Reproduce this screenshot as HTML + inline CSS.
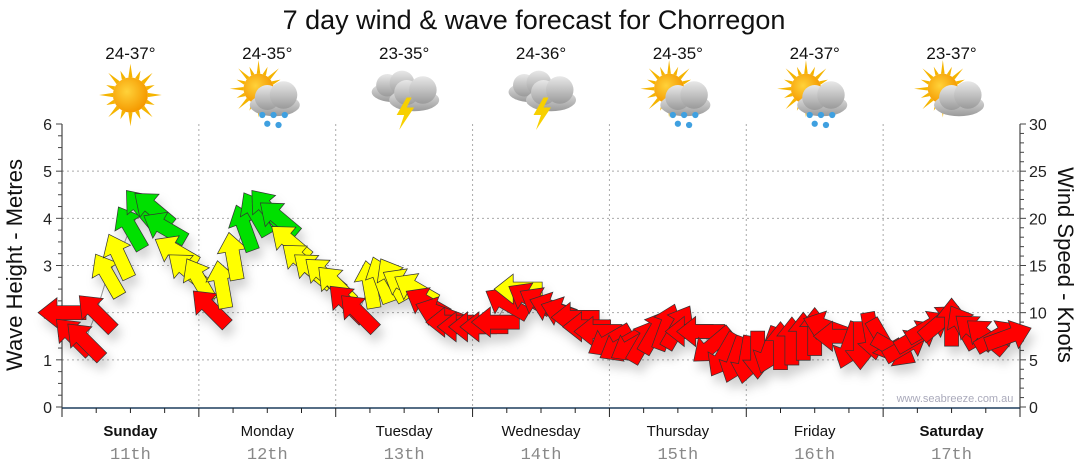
<!DOCTYPE html>
<html><head><meta charset="utf-8"><style>
body{margin:0;background:#fff;}
svg{display:block;font-family:"Liberation Sans",sans-serif;}
</style></head><body>
<svg id="c" width="1080" height="475" viewBox="0 0 1080 475">
<defs>
<filter id="sh" x="-50%" y="-50%" width="200%" height="200%"><feDropShadow dx="4" dy="8" stdDeviation="5" flood-color="#000" flood-opacity="0.18"/></filter>
<radialGradient id="sunG" cx="0.4" cy="0.4" r="0.6"><stop offset="0" stop-color="#ffd23a"/><stop offset="1" stop-color="#f59a00"/></radialGradient>
<linearGradient id="cloudG" x1="0" y1="0" x2="0" y2="1"><stop offset="0" stop-color="#e8e8e8"/><stop offset="1" stop-color="#9a9a9a"/></linearGradient>
</defs>
<text x="534" y="29" text-anchor="middle" font-size="27" fill="#111">7 day wind &amp; wave forecast for Chorregon</text>
<g id="grid"></g>
<g id="axes"></g>
<g id="header"></g>
<polyline id="wline" fill="none" stroke="#999" stroke-width="1"/>
<g id="arrows" filter="url(#sh)"></g>
<text x="955" y="402" text-anchor="middle" font-size="11" fill="#aab">www.seabreeze.com.au</text>
<text transform="translate(22,265) rotate(-90)" text-anchor="middle" font-size="22" fill="#111">Wave Height - Metres</text>
<text transform="translate(1058,265) rotate(90)" text-anchor="middle" font-size="22" fill="#111">Wind Speed - Knots</text>
</svg>
<script>
const days=["Sunday","Monday","Tuesday","Wednesday","Thursday","Friday","Saturday"];
const dates=["11th","12th","13th","14th","15th","16th","17th"];
const temps=["24-37°","24-35°","23-35°","24-36°","24-35°","24-37°","23-37°"];
const icons=["sun","sunrain","storm","storm","sunrain","sunrain","suncloud"];
const waveTicks=[0,1,2,3,4,5,6];
const windTicks=[0,5,10,15,20,25,30];
// wind every 2 hours from Sunday 00:00
const windSpeed=[10,7.5,7,10,14,16,19,21,21,19,16.5,14.5,
13.5,10.5,13,16,19,20.5,21,20,17.5,15.5,14.5,14,
13,11,10,13,13.5,13.5,13,12.5,11,10,9,8.5,
8.5,8.5,9,11,12.5,11.5,11,10.5,10,9.5,8.5,8,
7,6.5,6.5,7,8,8.5,8.5,8,8,6.5,5.5,5,
5,5.5,6,6.5,7,7.5,8,8.5,7.5,6.5,6.5,7.5,
7,6,6.5,7.5,8.5,9,9,8.5,8,7.5,7.5,7.5];
const windDir=[270,315,315,315,330,335,330,320,310,300,300,310,
330,315,350,350,340,330,320,310,310,310,310,310,
315,315,315,350,340,330,300,300,300,290,270,270,
270,270,270,300,270,300,300,290,290,270,270,270,
240,240,240,30,30,20,30,270,270,230,210,200,
190,180,200,0,0,0,0,290,270,200,180,170,
150,120,60,60,60,50,0,330,310,310,60,70];

const NS="http://www.w3.org/2000/svg";
const X0=62,X1=1020,Y0=407,Y6=124;
const dayW=(X1-X0)/7;
const xHour=h=>X0+h*dayW/24;
const yWave=m=>Y0-(Y0-Y6)*m/6;
const yWind=k=>Y0-(Y0-Y6)*k/30;
function el(tag,attrs,parent,text){const e=document.createElementNS(NS,tag);for(const k in attrs)e.setAttribute(k,attrs[k]);if(text!==undefined)e.textContent=text;parent.appendChild(e);return e;}
const grid=document.getElementById('grid'),axes=document.getElementById('axes'),header=document.getElementById('header');
for(let m=1;m<=5;m++){const g=el('line',{x1:X0,x2:X1,y1:yWave(m),y2:yWave(m),stroke:'#aaa','stroke-dasharray':'2,3','stroke-width':1},grid);

}
for(let d=1;d<7;d++){const x=X0+d*dayW;const g=el('line',{x1:x,x2:x,y1:Y6,y2:Y0,stroke:'#aaa','stroke-dasharray':'2,3','stroke-width':1},grid);

}
el('line',{x1:X0,x2:X0,y1:Y6,y2:Y0+8,stroke:'#222'},axes);
el('line',{x1:X1,x2:X1,y1:Y6,y2:Y0+8,stroke:'#222'},axes);
el('line',{x1:X0,x2:X1,y1:Y0+1,y2:Y0+1,stroke:'#1f3f5f','stroke-width':1.5},axes);
for(let i=0;i<=24;i++){const y=yWave(i/4);el('line',{x1:X0-(i%4==0?6:4),x2:X0,y1:y,y2:y,stroke:'#444'},axes);}
for(let k=0;k<=30;k++){const y=yWind(k);el('line',{x1:X1,x2:X1+(k%5==0?6:4),y1:y,y2:y,stroke:'#444'},axes);}
waveTicks.forEach(m=>{const t=el('text',{x:X0-10,y:yWave(m)+6,'text-anchor':'end','font-size':16,fill:'#222'},axes,String(m));

});
windTicks.forEach(k=>{const t=el('text',{x:X1+9,y:yWind(k)+6,'font-size':16,fill:'#222'},axes,String(k));

});
for(let h=0;h<=168;h+=6){const x=xHour(h);el('line',{x1:x,x2:x,y1:Y0+1,y2:Y0+(h%24==0?10:6),stroke:'#222'},axes);}
days.forEach((d,i)=>{const cx=X0+(i+0.5)*dayW;
const t=el('text',{x:cx,y:436,'text-anchor':'middle','font-size':15,fill:'#111','font-weight':(i==0||i==6)?'bold':'normal'},axes,d);


const t2=el('text',{x:cx,y:459,'text-anchor':'middle','font-size':17,fill:'#888','font-family':'Liberation Mono, monospace'},axes,dates[i]);


const t3=el('text',{x:cx,y:59,'text-anchor':'middle','font-size':17,fill:'#111'},header,temps[i]);


const g=el('g',{transform:`translate(${cx},95) scale(1.25)`},header);


drawIcon(g,icons[i]);});
function sun(g,x,y,r){for(let a=0;a<16;a++){const an=a*Math.PI/8,l=a%2?r+7:r+11;el('polygon',{points:`${x+Math.cos(an-0.12)*r},${y+Math.sin(an-0.12)*r} ${x+Math.cos(an)*l},${y+Math.sin(an)*l} ${x+Math.cos(an+0.12)*r},${y+Math.sin(an+0.12)*r}`,fill:'#f5b400'},g);}
el('circle',{cx:x,cy:y,r:r,fill:'url(#sunG)'},g);}
function cloud(g,x,y,s){const p=el('g',{transform:`translate(${x},${y}) scale(${s})`},g);
el('ellipse',{cx:0,cy:4,rx:20,ry:9,fill:'url(#cloudG)'},p);el('circle',{cx:-6,cy:-2,r:10,fill:'url(#cloudG)'},p);el('circle',{cx:7,cy:-4,r:11,fill:'url(#cloudG)'},p);}
function drawIcon(g,t){
if(t=='sun'){sun(g,0,0,14);}
if(t=='sunrain'||t=='suncloud'){sun(g,-7,-5,12);cloud(g,6,4,1);
if(t=='sunrain'){[[-4,16],[5,16],[14,16],[0,23],[9,24]].forEach(p=>el('circle',{cx:p[0],cy:p[1],r:2.5,fill:'#3fa0e0'},g));}}
if(t=='storm'){cloud(g,-8,-6,0.9);cloud(g,8,0,1);el('polygon',{points:'2,2 -6,16 0,16 -4,28 8,10 2,10 6,2',fill:'#f7d000'},g);}
}
const pts=[];
const ag=document.getElementById('arrows');
windSpeed.forEach((k,i)=>{const x=xHour(i*2),y=yWind(k);pts.push(x+','+y);
const col=k>=18?'#00e000':(k>=12?'#ffff00':'#ff0000');
const a=el('polygon',{points:'0,-24 15,-5 7,-5 7,24 -7,24 -7,-5 -15,-5',fill:col,stroke:'#333','stroke-width':0.7,transform:`translate(${x},${y}) rotate(${windDir[i]})`},ag);

});
document.getElementById('wline').setAttribute('points',pts.join(' '));
</script>
</body></html>
